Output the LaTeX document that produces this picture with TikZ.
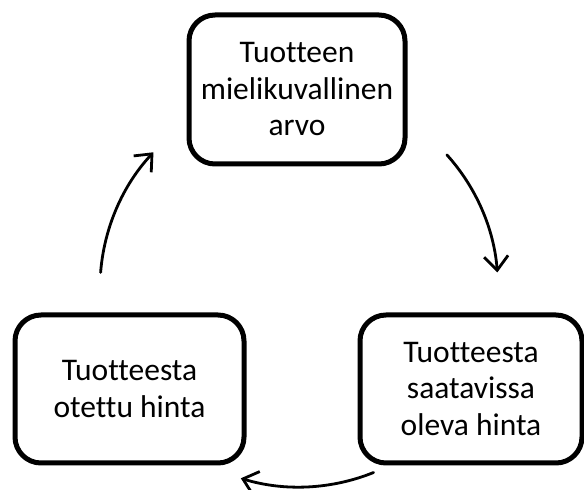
\documentclass[tikz,border=0pt]{standalone}
\usepackage{fontspec}
\setmainfont{Carlito}[Ligatures=CommonOff]
\usetikzlibrary{arrows.meta}

\tikzset{
  phase/.style={draw, line width=5pt, rounded corners=26pt, align=center,
    inner sep=0pt, font=\fontsize{31.5}{36.5}\selectfont},
  cyc/.style={line width=2.8pt, line cap=round,
    -{Straight Barb[length=14pt,width=24pt,line width=2.8pt]}}
}

\begin{document}
\begin{tikzpicture}[x=1pt,y=1pt]
    \useasboundingbox (0,0) rectangle (584,490);

    % boxes
    \node[phase, minimum width=216pt, minimum height=149pt] (arvo) at (297,400.5)
      {Tuotteen\\mielikuvallinen\\arvo};
    \node[phase, minimum width=222pt, minimum height=148pt] (saatava) at (471,101)
      {Tuotteesta\\saatavissa\\oleva hinta};
    \node[phase, minimum width=229pt, minimum height=148pt] (otettu) at (129.5,101)
      {Tuotteesta\\otettu hinta};

    % cycle arrows
    \coordinate (hub) at (299,202);
    \draw[cyc] ([shift={(42:199)}]hub) arc[start angle=42, end angle=4.5, radius=199];
    \draw[cyc] ([shift={(-68:199)}]hub) arc[start angle=-68, end angle=-107, radius=199];
    \draw[cyc] ([shift={(175.5:199)}]hub) arc[start angle=175.5, end angle=137, radius=199];
\end{tikzpicture}
\end{document}
